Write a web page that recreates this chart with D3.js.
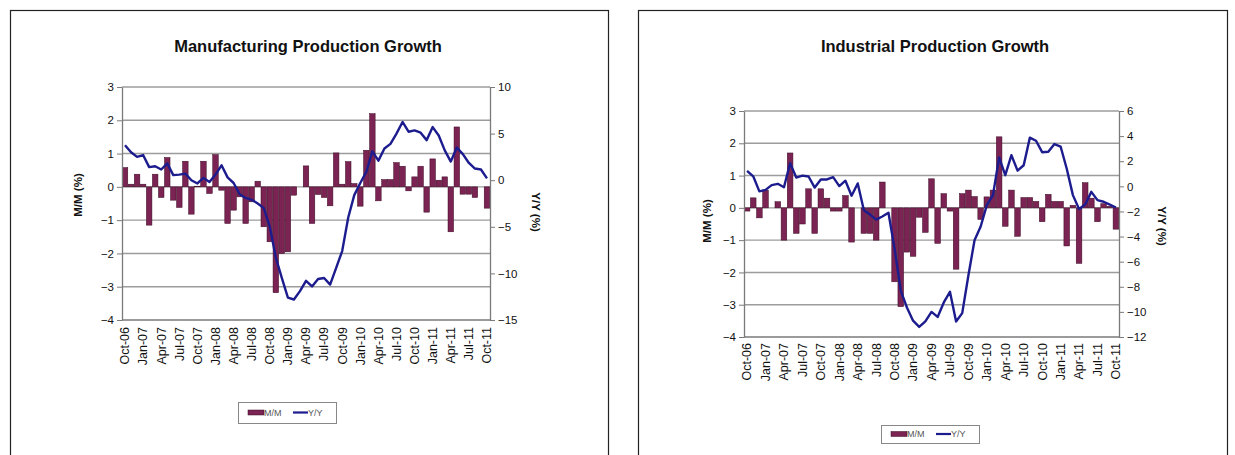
<!DOCTYPE html>
<html>
<head>
<meta charset="utf-8">
<script src="https://cdn.jsdelivr.net/npm/d3@7"></script>
<style>
  body { margin: 0; background: #fff; }
  svg { display: block; font-family: Arial, "Liberation Sans", sans-serif; }
</style>
</head>
<body>
<svg id="chart" width="1235" height="455"></svg>
<script>
// Monthly categories, Oct-06 .. Oct-11
const months = d3.timeMonth.range(new Date(2006, 9, 1), new Date(2011, 10, 1));
const tickLabels = ["Oct-06","Jan-07","Apr-07","Jul-07","Oct-07","Jan-08","Apr-08","Jul-08",
  "Oct-08","Jan-09","Apr-09","Jul-09","Oct-09","Jan-10","Apr-10","Jul-10","Oct-10",
  "Jan-11","Apr-11","Jul-11","Oct-11"];

// Manufacturing production, month-over-month (%)
const mfgMoM = [0.58, 0.08, 0.38, 0.08, -1.15, 0.38, -0.32, 0.88, -0.4, -0.62,
  0.77, -0.82, 0.02, 0.77, -0.2, 0.97, -0.1, -1.1, -0.7, -0.3,
  -1.1, -0.45, 0.17, -1.2, -1.65, -3.18, -2.0, -1.95, -0.25, 0.0,
  0.63, -1.1, -0.23, -0.32, -0.57, 1.02, 0.08, 0.76, 0.1, -0.58,
  1.1, 2.2, -0.42, 0.22, 0.22, 0.73, 0.62, -0.12, 0.3, 0.62,
  -0.76, 0.84, 0.2, 0.3, -1.35, 1.8, -0.22, -0.22, -0.32, 0.0,
  -0.64];
// Manufacturing production, year-over-year (%)
const mfgYoY = [3.75, 3.0, 2.5, 2.7, 1.4, 1.5, 1.15, 1.8, 0.55, 0.6,
  0.7, 0.0, -0.35, 0.25, -0.2, 0.6, 1.6, 0.3, -0.3, -1.5,
  -1.9, -2.1, -2.5, -3.0, -5.0, -8.3, -10.5, -12.6, -12.8, -11.9,
  -10.8, -11.4, -10.6, -10.5, -11.2, -9.4, -7.6, -4.0, -1.6, -0.3,
  0.9, 3.1, 2.1, 3.4, 3.9, 5.0, 6.25, 5.2, 5.35, 5.1,
  4.3, 5.7, 4.8, 3.2, 2.0, 3.5, 2.8, 1.85, 1.25, 1.15,
  0.2];

// Industrial production, month-over-month (%)
const indMoM = [-0.1, 0.31, -0.31, 0.55, 0.0, 0.19, -1.0, 1.7, -0.79, -0.5,
  0.59, -0.79, 0.59, 0.3, -0.1, -0.1, 0.38, -1.06, 0.0, -0.79,
  -0.79, -1.0, 0.8, 0.0, -2.29, -3.06, -1.37, -1.5, -0.29, -0.76,
  0.9, -1.1, 0.44, -0.1, -1.9, 0.44, 0.55, 0.35, -0.36, 0.34,
  0.55, 2.2, -0.57, 0.55, -0.88, 0.32, 0.32, 0.2, -0.43, 0.42,
  0.2, 0.2, -1.18, 0.08, -1.72, 0.78, 0.3, -0.43, 0.13, 0.05,
  -0.66];
// Industrial production, year-over-year (%)
const indYoY = [1.23, 0.8, -0.4, -0.28, 0.1, 0.2, -0.07, 1.85, 0.7, 0.85,
  0.78, -0.1, 0.55, 0.55, 0.73, 0.02, 0.45, -0.75, 0.23, -1.9,
  -2.25, -2.65, -2.4, -2.1, -5.0, -8.3, -9.65, -10.7, -11.2, -10.76,
  -10.0, -10.4, -9.25, -8.4, -10.76, -10.1, -7.1, -4.3, -3.2, -1.5,
  -0.7, 2.3, 0.89, 2.48, 1.25, 1.68, 3.88, 3.63, 2.72, 2.75,
  3.37, 3.17, 1.4, -0.7, -1.8, -1.45, -0.44, -1.1, -1.23, -1.45,
  -1.7];

const momTicks = [-4, -3, -2, -1, 0, 1, 2, 3];
const mfgYoYTicks = [-15, -10, -5, 0, 5, 10];
const indYoYTicks = [-12, -10, -8, -6, -4, -2, 0, 2, 4, 6];

const fmtMonth = d3.timeFormat("%b-%y");
const BAR = "#7b2352", BAR_EDGE = "#3a0a24", LINE = "#1c1c8f";
const GRID = "#9c9c9c", AXIS = "#7a7a7a", TEXT = "#111";

const svg = d3.select("#chart");

function drawPanel(p) {
  const g = svg.append("g");

  // outer frame
  g.append("rect").attr("x", p.frame[0] + 0.5).attr("y", p.frame[1] + 0.5)
    .attr("width", p.frame[2]).attr("height", p.frame[3])
    .attr("fill", "#fff").attr("stroke", "#222").attr("stroke-width", 1.2);

  g.append("text").attr("x", p.titleX).attr("y", p.titleY)
    .attr("text-anchor", "middle").attr("font-size", 16.5).attr("font-weight", "bold")
    .attr("fill", TEXT).text(p.title);

  const x = d3.scaleBand().domain(months.map(fmtMonth))
    .range([p.x0, p.x1]).paddingInner(0.08).paddingOuter(0.04);
  const yL = d3.scaleLinear().domain([-4, 3]).range([p.y1, p.y0]);
  const yR = d3.scaleLinear().domain(p.rightDomain).range([p.y1, p.y0]);

  // horizontal gridlines
  g.append("g").selectAll("line").data(momTicks.filter(t => t > -4)).join("line")
    .attr("x1", p.x0).attr("x2", p.x1)
    .attr("y1", d => yL(d)).attr("y2", d => yL(d))
    .attr("stroke", GRID).attr("stroke-width", 1.4);

  // M/M bars
  g.append("g").selectAll("rect").data(p.mom).join("rect")
    .attr("x", (d, i) => x(fmtMonth(months[i])))
    .attr("width", x.bandwidth())
    .attr("y", d => yL(Math.max(0, d)))
    .attr("height", d => Math.abs(yL(d) - yL(0)))
    .attr("fill", BAR).attr("stroke", BAR_EDGE).attr("stroke-width", 0.5);

  // Y/Y line
  const line = d3.line()
    .x((d, i) => x(fmtMonth(months[i])) + x.bandwidth() / 2)
    .y(d => yR(d));
  g.append("path").datum(p.yoy).attr("d", line)
    .attr("fill", "none").attr("stroke", LINE).attr("stroke-width", 2.4)
    .attr("stroke-linejoin", "round");

  // left axis
  const axL = g.append("g").attr("transform", `translate(${p.x0},0)`)
    .call(d3.axisLeft(yL).tickValues(momTicks).tickSize(5).tickSizeOuter(0).tickFormat(d3.format("d")));
  axL.select(".domain").attr("stroke", AXIS).attr("stroke-width", 1.3);
  axL.selectAll(".tick line").attr("stroke", AXIS);
  axL.selectAll(".tick text").attr("font-size", 11.5).attr("fill", TEXT)
    .attr("font-family", "Arial, 'Liberation Sans', sans-serif");

  // right axis
  const axR = g.append("g").attr("transform", `translate(${p.x1},0)`)
    .call(d3.axisRight(yR).tickValues(p.rightTicks).tickSize(5).tickSizeOuter(0).tickFormat(d3.format("d")));
  axR.select(".domain").attr("stroke", AXIS).attr("stroke-width", 1.3);
  axR.selectAll(".tick line").attr("stroke", AXIS);
  axR.selectAll(".tick text").attr("font-size", 11.5).attr("fill", TEXT)
    .attr("font-family", "Arial, 'Liberation Sans', sans-serif");

  // bottom category axis
  g.append("line").attr("x1", p.x0).attr("x2", p.x1).attr("y1", p.y1).attr("y2", p.y1)
    .attr("stroke", AXIS).attr("stroke-width", 1.3);
  const axB = g.append("g").attr("transform", `translate(0,${p.y1})`)
    .call(d3.axisBottom(x).tickValues(tickLabels).tickSize(0));
  axB.select(".domain").remove();
  axB.selectAll(".tick text")
    .attr("font-size", 12.5).attr("fill", TEXT)
    .attr("font-family", "Arial, 'Liberation Sans', sans-serif")
    .attr("text-anchor", "end")
    .attr("transform", `translate(0,${p.labelGap}) rotate(-90)`)
    .attr("x", 0).attr("y", 0).attr("dy", "0.35em");

  // axis titles
  g.append("text").attr("transform", `translate(${p.mmTitle[0]},${p.mmTitle[1]}) rotate(-90)`)
    .attr("text-anchor", "middle").attr("font-size", 11.5).attr("font-weight", "bold")
    .attr("fill", TEXT).text("M/M (%)");
  g.append("text").attr("transform", `translate(${p.yyTitle[0]},${p.yyTitle[1]}) rotate(90)`)
    .attr("text-anchor", "middle").attr("font-size", 11.5).attr("font-weight", "bold")
    .attr("fill", TEXT).text("Y/Y (%)");

  // legend
  const [lx, ly, lw, lh] = p.legend;
  const lg = g.append("g");
  lg.append("rect").attr("x", lx + 0.5).attr("y", ly + 0.5).attr("width", lw).attr("height", lh)
    .attr("fill", "#fff").attr("stroke", "#888").attr("stroke-width", 1);
  const cy = ly + lh / 2;
  lg.append("rect").attr("x", lx + 10).attr("y", cy - 2.5).attr("width", 16).attr("height", 5)
    .attr("fill", BAR).attr("stroke", BAR_EDGE).attr("stroke-width", 0.5);
  lg.append("text").attr("x", lx + 26).attr("y", cy).attr("dy", "0.35em")
    .attr("font-size", 9).attr("fill", "#555").text("M/M");
  lg.append("line").attr("x1", lx + 55).attr("x2", lx + 70).attr("y1", cy).attr("y2", cy)
    .attr("stroke", LINE).attr("stroke-width", 2.2);
  lg.append("text").attr("x", lx + 70).attr("y", cy).attr("dy", "0.35em")
    .attr("font-size", 9).attr("fill", "#555").text("Y/Y");
}

drawPanel({
  frame: [10, 10, 598, 460],
  title: "Manufacturing Production Growth", titleX: 308, titleY: 52,
  x0: 122, x1: 490, y0: 87, y1: 320,
  mom: mfgMoM, yoy: mfgYoY,
  rightDomain: [-15, 10], rightTicks: mfgYoYTicks,
  labelGap: 7,
  mmTitle: [82, 195], yyTitle: [532, 212],
  legend: [238, 402, 98, 21]
});

drawPanel({
  frame: [638, 10, 589, 460],
  title: "Industrial Production Growth", titleX: 935, titleY: 52,
  x0: 744, x1: 1119, y0: 111, y1: 337,
  mom: indMoM, yoy: indYoY,
  rightDomain: [-12, 6], rightTicks: indYoYTicks,
  labelGap: 6,
  mmTitle: [711, 221], yyTitle: [1158, 226],
  legend: [881, 425, 98, 18]
});
</script>
</body>
</html>
